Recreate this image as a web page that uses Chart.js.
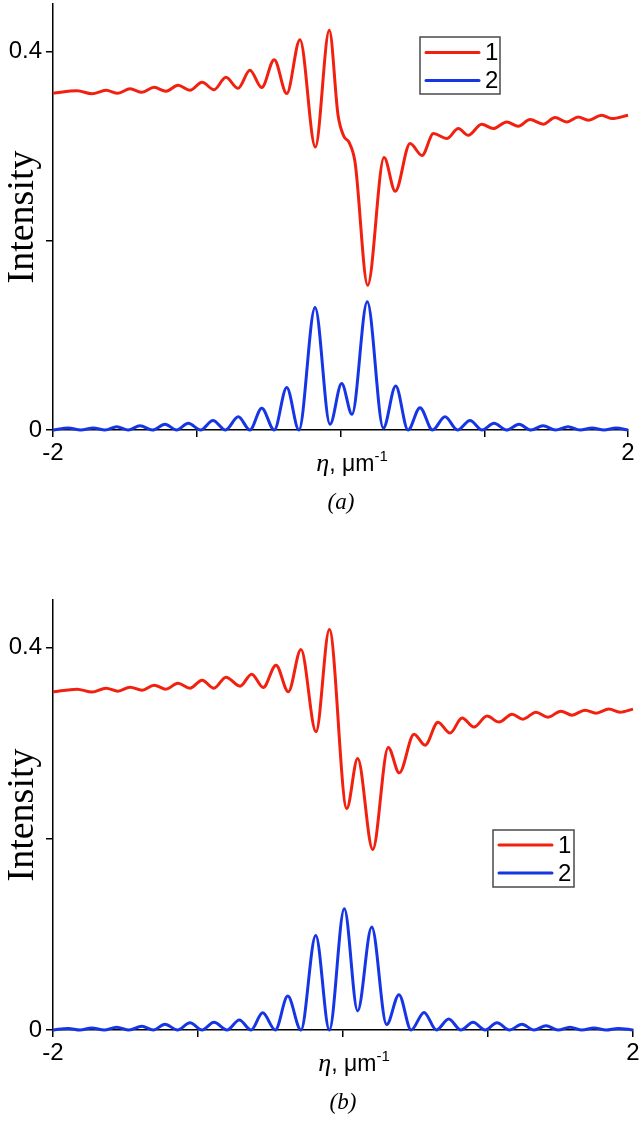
<!DOCTYPE html>
<html><head><meta charset="utf-8">
<script src="https://cdn.jsdelivr.net/npm/chart.js@4.4.0/dist/chart.umd.min.js"></script>
<style>
html,body{margin:0;padding:0;background:#fff;}
#wrap{position:relative;width:640px;height:1123px;overflow:hidden;background:#fff;}
.holder{position:absolute;left:0;width:640px;height:480px;}
.xt{position:absolute;font:23px 'Liberation Sans',Arial,sans-serif;white-space:nowrap;line-height:23px;color:#000;transform:translateX(-50%);}
.xt i{font-family:'Liberation Serif','Times New Roman',serif;font-style:italic;font-size:26px;}
.xt sup{font-size:15px;vertical-align:0;position:relative;top:-10px;}
.cap{position:absolute;font:italic 23px 'Liberation Serif','Times New Roman',serif;line-height:23px;color:#000;transform:translateX(-50%);}
</style></head>
<body><div id="wrap">
<div class="holder" style="top:0"><canvas id="cA" width="640" height="480"></canvas></div>
<div class="xt" style="left:352px;top:451px"><i>η</i>, μm<sup>-1</sup></div>
<div class="cap" style="left:341px;top:490px">(<i>a</i>)</div>
<div class="holder" style="top:596px"><canvas id="cB" width="640" height="480"></canvas></div>
<div class="xt" style="left:354px;top:1051px"><i>η</i>, μm<sup>-1</sup></div>
<div class="cap" style="left:343px;top:1090px">(<i>b</i>)</div>
</div>
<script>
// ---- data (panel a) ----
const etaA1 = [-2.000,-1.833,-1.729,-1.631,-1.548,-1.464,-1.381,-1.297,-1.214,-1.130,-1.047,-0.963,-0.880,-0.797,-0.713,-0.630,-0.548,-0.461,-0.374,-0.282,-0.175,-0.078,-0.017,0.024,0.059,0.101,0.189,0.303,0.381,0.484,0.567,0.647,0.739,0.820,0.889,0.982,1.063,1.156,1.237,1.318,1.411,1.492,1.574,1.654,1.724,1.817,1.887,2.000];
const intA1 = [0.3557,0.3583,0.3552,0.3588,0.3557,0.3604,0.3567,0.3620,0.3578,0.3641,0.3588,0.3673,0.3594,0.3726,0.3609,0.3800,0.3617,0.3912,0.3554,0.4123,0.2990,0.4222,0.3325,0.3100,0.3040,0.2830,0.1530,0.2878,0.2522,0.3026,0.2900,0.3131,0.3079,0.3184,0.3113,0.3230,0.3184,0.3254,0.3208,0.3279,0.3230,0.3300,0.3254,0.3306,0.3272,0.3325,0.3290,0.3325];
const etaA2 = [-2.000,-1.894,-1.807,-1.720,-1.638,-1.557,-1.476,-1.395,-1.308,-1.221,-1.140,-1.059,-0.973,-0.887,-0.800,-0.711,-0.630,-0.548,-0.461,-0.374,-0.289,-0.177,-0.073,0.008,0.080,0.186,0.298,0.384,0.470,0.553,0.640,0.727,0.814,0.901,0.985,1.068,1.155,1.242,1.325,1.409,1.496,1.583,1.667,1.750,1.833,1.917,2.000];
const intA2 = [0,0.002,0,0.002,0,0.0035,0,0.0045,0,0.006,0,0.007,0,0.010,0,0.014,0,0.023,0,0.045,0,0.1295,0.006,0.049,0.0166,0.1354,0.002,0.0464,0,0.0236,0,0.014,0,0.010,0,0.007,0,0.006,0,0.0045,0,0.0035,0,0.002,0,0.002,0];
// ---- data (panel b) ----
const etaB1 = [-2.000,-1.834,-1.731,-1.634,-1.552,-1.469,-1.386,-1.303,-1.221,-1.138,-1.055,-0.972,-0.890,-0.807,-0.710,-0.630,-0.550,-0.462,-0.377,-0.290,-0.186,-0.094,0.026,0.101,0.205,0.312,0.388,0.490,0.566,0.655,0.738,0.821,0.903,0.993,1.076,1.166,1.241,1.331,1.414,1.503,1.579,1.669,1.745,1.834,1.910,2.000];
const intB1 = [0.3539,0.3567,0.3536,0.3577,0.3546,0.3588,0.3556,0.3609,0.3567,0.3630,0.3577,0.3661,0.3577,0.3692,0.3598,0.3724,0.3585,0.3818,0.3539,0.3982,0.3120,0.4191,0.2319,0.2842,0.1890,0.2957,0.2691,0.3096,0.2980,0.3220,0.3107,0.3264,0.3170,0.3285,0.3222,0.3305,0.3253,0.3326,0.3274,0.3337,0.3295,0.3347,0.3316,0.3358,0.3326,0.3358];
const etaB2 = [-2.000,-1.895,-1.814,-1.733,-1.647,-1.561,-1.475,-1.388,-1.308,-1.228,-1.141,-1.055,-0.972,-0.890,-0.800,-0.715,-0.634,-0.554,-0.467,-0.381,-0.290,-0.188,-0.094,0.009,0.101,0.198,0.301,0.386,0.470,0.559,0.644,0.729,0.813,0.897,0.980,1.062,1.148,1.234,1.317,1.400,1.483,1.566,1.648,1.731,1.814,1.897,2.000];
const intB2 = [0,0.0017,0,0.002,0,0.003,0,0.004,0,0.006,0,0.0075,0,0.008,0,0.0105,0,0.018,0,0.0355,0,0.099,0,0.127,0.020,0.1077,0.0057,0.037,0,0.0184,0,0.0115,0,0.008,0,0.0075,0,0.006,0,0.0045,0,0.003,0,0.002,0,0.0017,0];
// ---- ticks & labels ----
const yTicks = [0, 0.2, 0.4];
const yTickLabels = ['0', '', '0.4'];
const xTicks = [-2, -1, 0, 1, 2];
const xTickLabels = ['-2', '', '', '', '2'];
const seriesLabels = ['1', '2'];
const yTitle = 'Intensity';

const RED = '#f2200f', BLUE = '#1636e6';
const TICKFONT = {family: "'Liberation Sans', Arial, sans-serif", size: 24};

const boxLegend = {
  id: 'boxLegend',
  afterDraw(chart, args, o) {
    const ctx = chart.ctx;
    ctx.save();
    ctx.strokeStyle = '#4a4a4a'; ctx.lineWidth = 1.5;
    ctx.strokeRect(o.x, o.y, o.w, o.h);
    chart.data.datasets.forEach((ds, i) => {
      const ly = o.y + o.first + i * o.gap;
      ctx.strokeStyle = ds.borderColor; ctx.lineWidth = 3; ctx.lineCap = 'round';
      ctx.beginPath(); ctx.moveTo(o.x + 6, ly); ctx.lineTo(o.x + 59, ly); ctx.stroke();
      ctx.fillStyle = '#000'; ctx.font = "24px 'Liberation Sans', Arial, sans-serif";
      ctx.textBaseline = 'middle'; ctx.textAlign = 'left';
      ctx.fillText(ds.label, o.x + 65, ly + 1);
    });
    ctx.restore();
  }
};

function pts(xs, ys) { return xs.map((x, i) => ({x: x, y: ys[i]})); }
function labelFor(ticks, labels, v) {
  const k = ticks.findIndex(t => Math.abs(t - v) < 1e-9);
  return k < 0 ? '' : labels[k];
}

function makeChart(id, e1, i1, e2, i2, cfg) {
  return new Chart(document.getElementById(id), {
    type: 'line',
    data: {
      datasets: [
        {label: seriesLabels[0], data: pts(e1, i1), borderColor: RED, borderWidth: 3, pointRadius: 0, cubicInterpolationMode: 'monotone', fill: false, clip: 6},
        {label: seriesLabels[1], data: pts(e2, i2), borderColor: BLUE, borderWidth: 3, pointRadius: 0, cubicInterpolationMode: 'monotone', fill: false, clip: 6}
      ]
    },
    options: {
      responsive: false, animation: false, events: [],
      layout: {padding: {left: 0, top: cfg.top, right: cfg.right, bottom: 0}},
      plugins: {legend: {display: false}, tooltip: {enabled: false}, boxLegend: cfg.legend},
      scales: {
        x: {
          type: 'linear', min: -2, max: 2,
          afterBuildTicks: s => { s.ticks = xTicks.map(v => ({value: v})); },
          afterFit: s => { s.height = cfg.xh; s.paddingLeft = 0; s.paddingRight = 0; },
          ticks: {callback: v => labelFor(xTicks, xTickLabels, v), font: TICKFONT, color: '#000', padding: 2, maxRotation: 0, autoSkip: false},
          grid: {drawOnChartArea: false, drawTicks: true, tickLength: 7, color: '#000', lineWidth: 1.5},
          border: {display: true, color: '#000', width: 1.5}
        },
        y: {
          type: 'linear', min: 0, max: 0.45,
          afterBuildTicks: s => { s.ticks = yTicks.map(v => ({value: v})); },
          afterFit: s => { s.width = 53; s.paddingTop = 0; s.paddingBottom = 0; },
          ticks: {callback: v => labelFor(yTicks, yTickLabels, v), font: TICKFONT, color: '#000', padding: 4, autoSkip: false},
          grid: {drawOnChartArea: false, drawTicks: true, tickLength: 7, color: '#000', lineWidth: 1.5},
          border: {display: true, color: '#000', width: 1.5},
          title: {display: true, text: yTitle, color: '#000', font: {family: "'Liberation Serif', 'Times New Roman', serif", size: 38}, padding: 0}
        }
      }
    },
    plugins: [boxLegend]
  });
}

makeChart('cA', etaA1, intA1, etaA2, intA2, {top: 4, right: 12, xh: 50, legend: {x: 420, y: 37, w: 80, h: 57, first: 15.5, gap: 28}});
makeChart('cB', etaB1, intB1, etaB2, intB2, {top: 4, right: 7, xh: 46, legend: {x: 493, y: 234, w: 81, h: 57, first: 15, gap: 28}});
</script>
</body></html>
